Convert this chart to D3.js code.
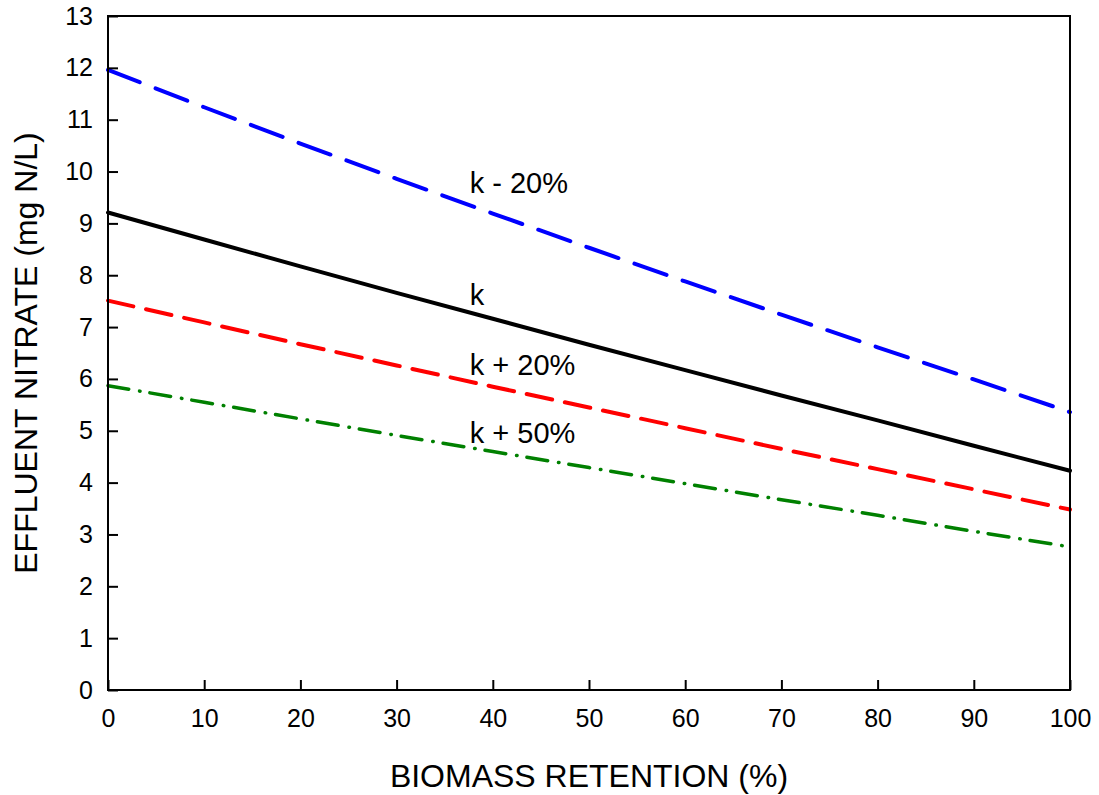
<!DOCTYPE html>
<html>
<meta charset="utf-8" />
<head>
<title>Effluent nitrate vs biomass retention</title>
<style>
body { margin: 0; background: #fff; }
svg { display: block; }
svg text { font-family: "Liberation Sans", Arial, Helvetica, sans-serif; fill: #000; }
.axis path, .axis line { stroke: #000; stroke-width: 2px; }
.axis text { font-size: 25px; }
</style>
<script src="https://cdn.jsdelivr.net/npm/d3@7/dist/d3.min.js"></script>
</head>
<body>
<svg class="chart"></svg>
<script>
var chartWidth = 1099;
var chartHeight = 795;

/********
 * Data *
 ********/

var retention = [0, 10, 20, 30, 40, 50, 60, 70, 80, 90, 100];

var kMinus20 = [11.96, 11.24, 10.54, 9.86, 9.19, 8.53, 7.88, 7.24, 6.61, 5.99, 5.36];
var kBase    = [9.21, 8.69, 8.17, 7.66, 7.16, 6.66, 6.17, 5.68, 5.20, 4.71, 4.23];
var kPlus20  = [7.51, 7.09, 6.67, 6.26, 5.85, 5.45, 5.05, 4.65, 4.26, 3.87, 3.48];
var kPlus50  = [5.87, 5.55, 5.23, 4.91, 4.60, 4.29, 3.98, 3.67, 3.37, 3.06, 2.76];

var seriesNames = ["k - 20%", "k", "k + 20%", "k + 50%"];
// label anchor (x in %, y in mg N/L)
var labelX = [37.6, 37.6, 37.6, 37.6];
var labelY = [9.58, 7.42, 6.07, 4.76];

var xTicks = [0, 10, 20, 30, 40, 50, 60, 70, 80, 90, 100];
var yTicks = [0, 1, 2, 3, 4, 5, 6, 7, 8, 9, 10, 11, 12, 13];

var series = [
  { name: seriesNames[0], values: kMinus20, color: "#0000ff", dash: "34,17", width: 4 },
  { name: seriesNames[1], values: kBase,    color: "#000000", dash: null,    width: 4 },
  { name: seriesNames[2], values: kPlus20,  color: "#ff0000", dash: "26,13", width: 4 },
  { name: seriesNames[3], values: kPlus50,  color: "#008000", dash: "21,11,0.5,10", width: 3.5 }
];

/**********
 * Scales *
 **********/

var x = d3.scaleLinear().domain([0, 100]).range([108, 1070]);
var y = d3.scaleLinear().domain([0, 13]).range([690, 16]);

var svg = d3.select(".chart")
    .attr("width", chartWidth)
    .attr("height", chartHeight);

/**********
 * Lines  *
 **********/

var line = d3.line()
    .x(function(d, i){ return x(retention[i]); })
    .y(function(d){ return y(d); });

svg.selectAll("path.series")
    .data(series)
    .enter().append("path")
    .attr("class", "series")
    .attr("fill", "none")
    .attr("stroke", function(d){ return d.color; })
    .attr("stroke-width", function(d){ return d.width; })
    .attr("stroke-linecap", "round")
    .attr("stroke-dasharray", function(d){ return d.dash; })
    .attr("d", function(d){ return line(d.values); });

svg.selectAll("text.lbl")
    .data(series)
    .enter().append("text")
    .attr("class", "lbl")
    .attr("x", function(d, i){ return x(labelX[i]); })
    .attr("y", function(d, i){ return y(labelY[i]); })
    .style("font-size", "29px")
    .text(function(d){ return d.name; });

/********
 * Axes *
 ********/

var xAxis = d3.axisBottom(x)
    .tickValues(xTicks)
    .tickSize(-10)
    .tickPadding(19)
    .tickFormat(d3.format("d"));

var yAxis = d3.axisLeft(y)
    .tickValues(yTicks)
    .tickSize(-10)
    .tickPadding(15)
    .tickFormat(d3.format("d"));

svg.append("g")
    .attr("class", "axis")
    .attr("transform", "translate(0," + y(0) + ")")
    .call(xAxis)
    .call(function(g){ g.select(".domain").remove(); });

svg.append("g")
    .attr("class", "axis")
    .attr("transform", "translate(" + x(0) + ",0)")
    .call(yAxis)
    .call(function(g){ g.select(".domain").remove(); });

// frame around the plot area
svg.append("rect")
    .attr("x", x(0))
    .attr("y", y(13))
    .attr("width", x(100) - x(0))
    .attr("height", y(0) - y(13))
    .attr("fill", "none")
    .attr("stroke", "#000")
    .attr("stroke-width", 2);

// axis titles
svg.append("text")
    .attr("x", (x(0) + x(100)) / 2)
    .attr("y", 787)
    .attr("text-anchor", "middle")
    .style("font-size", "32px")
    .text("BIOMASS RETENTION (%)");

svg.append("text")
    .attr("transform", "translate(37," + (y(0) + y(13)) / 2 + ") rotate(-90)")
    .attr("text-anchor", "middle")
    .style("font-size", "32px")
    .text("EFFLUENT NITRATE (mg N/L)");
</script>
</body>
</html>
